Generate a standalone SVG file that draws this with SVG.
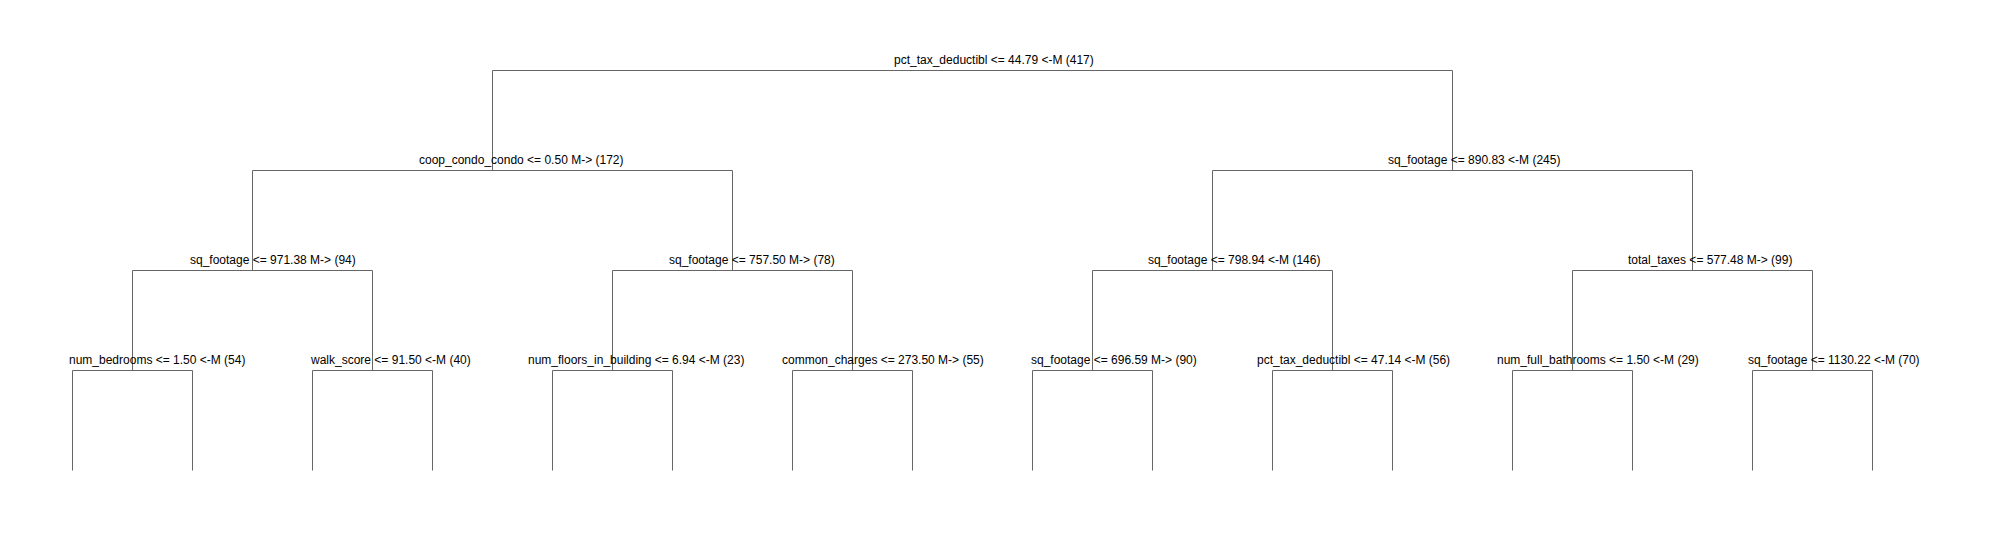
<svg xmlns="http://www.w3.org/2000/svg" width="1990" height="540" viewBox="0 0 1990 540">
<style>
.lbl{font-family:"Liberation Sans",Arial,sans-serif;font-size:12px;fill:#000}
.edge{fill:none;stroke:#666;stroke-width:1}
</style>
<rect x="0" y="0" width="1990" height="540" fill="#fff"/>
<g id="connectors" class="edge">
<path d="M492.5 170.5V70.5H1452.5V170.5"/>
<path d="M252.5 270.5V170.5H732.5V270.5"/>
<path d="M1212.5 270.5V170.5H1692.5V270.5"/>
<path d="M132.5 370.5V270.5H372.5V370.5"/>
<path d="M612.5 370.5V270.5H852.5V370.5"/>
<path d="M1092.5 370.5V270.5H1332.5V370.5"/>
<path d="M1572.5 370.5V270.5H1812.5V370.5"/>
<path d="M72.5 470.5V370.5H192.5V470.5"/>
<path d="M312.5 470.5V370.5H432.5V470.5"/>
<path d="M552.5 470.5V370.5H672.5V470.5"/>
<path d="M792.5 470.5V370.5H912.5V470.5"/>
<path d="M1032.5 470.5V370.5H1152.5V470.5"/>
<path d="M1272.5 470.5V370.5H1392.5V470.5"/>
<path d="M1512.5 470.5V370.5H1632.5V470.5"/>
<path d="M1752.5 470.5V370.5H1872.5V470.5"/>
</g>
<g id="n0"><text class="lbl" x="894" y="64">pct_tax_deductibl &lt;= 44.79 &lt;-M (417)</text></g>
<g id="n1"><text class="lbl" x="419" y="164">coop_condo_condo &lt;= 0.50 M-&gt; (172)</text></g>
<g id="n2"><text class="lbl" x="1388" y="164">sq_footage &lt;= 890.83 &lt;-M (245)</text></g>
<g id="n3"><text class="lbl" x="190" y="264">sq_footage &lt;= 971.38 M-&gt; (94)</text></g>
<g id="n4"><text class="lbl" x="669" y="264">sq_footage &lt;= 757.50 M-&gt; (78)</text></g>
<g id="n5"><text class="lbl" x="1148" y="264">sq_footage &lt;= 798.94 &lt;-M (146)</text></g>
<g id="n6"><text class="lbl" x="1628" y="264">total_taxes &lt;= 577.48 M-&gt; (99)</text></g>
<g id="n7"><text class="lbl" x="69" y="364">num_bedrooms &lt;= 1.50 &lt;-M (54)</text></g>
<g id="n8"><text class="lbl" x="311" y="364">walk_score &lt;= 91.50 &lt;-M (40)</text></g>
<g id="n9"><text class="lbl" x="528" y="364">num_floors_in_building &lt;= 6.94 &lt;-M (23)</text></g>
<g id="n10"><text class="lbl" x="782" y="364">common_charges &lt;= 273.50 M-&gt; (55)</text></g>
<g id="n11"><text class="lbl" x="1031" y="364">sq_footage &lt;= 696.59 M-&gt; (90)</text></g>
<g id="n12"><text class="lbl" x="1257" y="364">pct_tax_deductibl &lt;= 47.14 &lt;-M (56)</text></g>
<g id="n13"><text class="lbl" x="1497" y="364">num_full_bathrooms &lt;= 1.50 &lt;-M (29)</text></g>
<g id="n14"><text class="lbl" x="1748" y="364">sq_footage &lt;= 1130.22 &lt;-M (70)</text></g>
</svg>
